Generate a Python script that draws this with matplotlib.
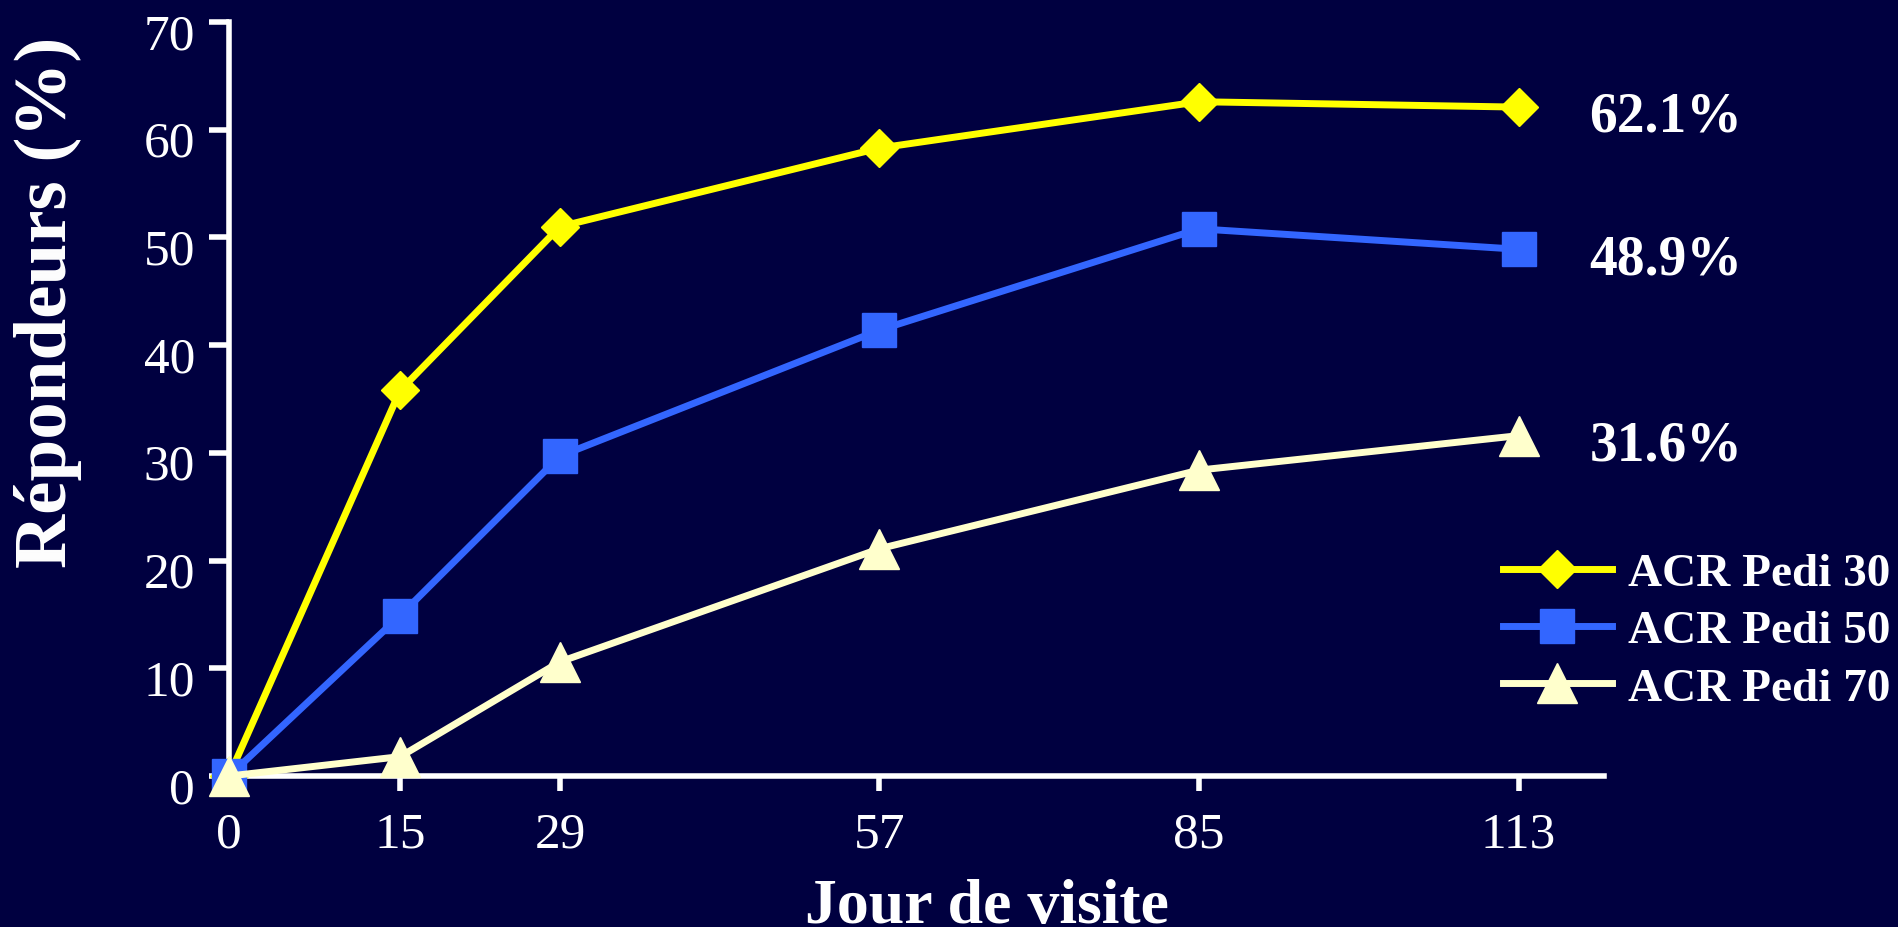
import matplotlib.pyplot as plt
from matplotlib.transforms import ScaledTranslation

plt.rcParams['font.family'] = ['Liberation Serif', 'DejaVu Serif']

# visit days and responder rates (%)
days = [0, 15, 29, 57, 85, 113]
acr30 = [0, 35.8, 51.0, 58.3, 62.6, 62.1]
acr50 = [0, 14.9, 29.7, 41.4, 50.8, 48.9]
acr70 = [0, 1.8, 10.6, 21.1, 28.4, 31.6]
names = ['ACR Pedi 30', 'ACR Pedi 50', 'ACR Pedi 70']
yticks = [0, 10, 20, 30, 40, 50, 60, 70]

bg = '#000040'
colors = ['#FFFF00', '#3366FF', '#FFFFCC']
markers = ['D', 's', '^']
msizes = [19.5, 24, 28.5]

fig = plt.figure(figsize=(18.99, 9.28), dpi=100, facecolor=bg)
ax = fig.add_axes([0.1206, 0.1627, 0.7241, 0.8125], facecolor=bg)

for vals, c, m, ms, name in zip([acr30, acr50, acr70], colors, markers, msizes, names):
    ax.plot(days, vals, color=c, lw=5, marker=m, ms=ms, mfc=c, mec=c, mew=1,
            label=name, clip_on=False, zorder=3)
    # final value written to the right of the last point
    ax.annotate(f"{vals[-1]}%", (days[-1], vals[-1]), xytext=(106, -7),
                textcoords='offset points', ha='center', va='center',
                color='white', fontsize=40, fontweight='bold', annotation_clip=False)

ax.set_xlim(0, 120.5)
ax.set_ylim(0, 70)
ax.set_xticks(days)
ax.set_yticks(yticks)

for side in ['top', 'right']:
    ax.spines[side].set_visible(False)
for side in ['left', 'bottom']:
    ax.spines[side].set_color('white')
    ax.spines[side].set_linewidth(4)

ax.tick_params(axis='x', colors='white', labelsize=37, length=11, width=4, pad=14)
ax.tick_params(axis='y', colors='white', labelsize=37, length=14.5, width=4, pad=10)

# y tick labels sit a little below their ticks
for lab in ax.get_yticklabels():
    lab.set_transform(lab.get_transform() + ScaledTranslation(0, -6 / 72, fig.dpi_scale_trans))

ax.set_ylabel('Répondeurs (%)', color='white', fontsize=54, fontweight='bold', va='center')
ax.yaxis.set_label_coords(-0.1316, 0.63)
ax.set_xlabel('Jour de visite', color='white', fontsize=46, fontweight='bold', va='baseline')
ax.xaxis.set_label_coords(0.551, -0.193)

ax.legend(loc='center left', bbox_to_anchor=(0.7915, 0.319), bbox_transform=fig.transFigure,
          frameon=False, borderpad=0, borderaxespad=0, handlelength=2.3, handletextpad=0.34,
          labelspacing=0.3, prop={'weight': 'bold', 'size': 34}, labelcolor='white')

fig.savefig('out.png', dpi=100, facecolor=bg)
